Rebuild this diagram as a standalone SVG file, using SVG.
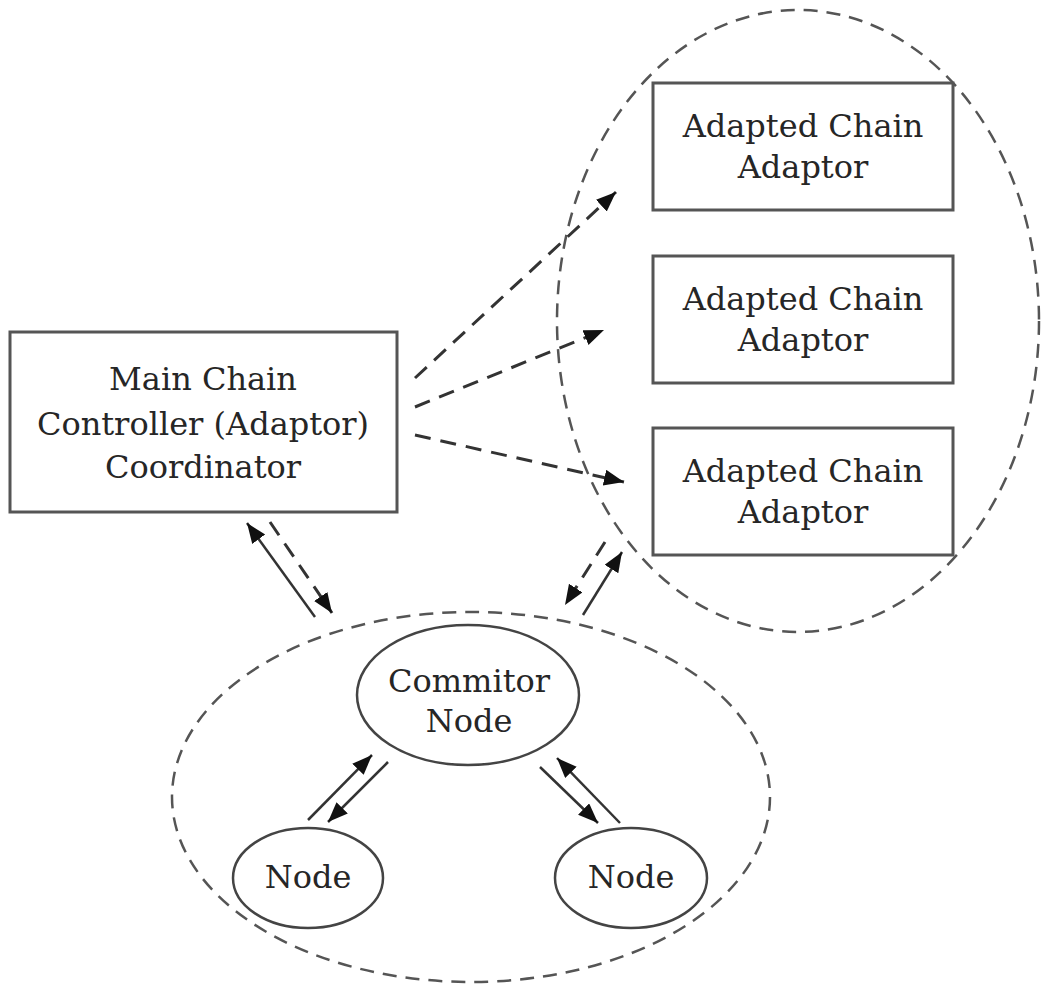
<svg xmlns="http://www.w3.org/2000/svg" width="1043" height="992" viewBox="0 0 1043 992">
<defs>
<marker id="ah" markerUnits="userSpaceOnUse" markerWidth="22" markerHeight="18" refX="20" refY="8" orient="auto">
<path d="M0,0 L20,8 L0,16 z" fill="#111"/>
</marker>
<style>
.box{fill:#fff;stroke:#555;stroke-width:3}
.ell{fill:#fff;stroke:#444;stroke-width:2.5}
.grp{fill:none;stroke:#555;stroke-width:2.5;stroke-dasharray:14 9}
.t{font-family:"DejaVu Serif","Liberation Serif",serif;font-size:32px;fill:#262626;text-anchor:middle}
.da{fill:none;stroke:#333;stroke-width:3;stroke-dasharray:16 10}
.so{fill:none;stroke:#333;stroke-width:2.5}
</style>
</defs>
<rect width="1043" height="992" fill="#fff"/>
<g id="adapted-group"><ellipse class="grp" cx="798" cy="321" rx="241" ry="311"/></g>
<g id="node-group"><ellipse class="grp" cx="471" cy="797" rx="299" ry="185"/></g>
<g id="main"><rect class="box" x="10" y="332" width="387" height="180"/>
<text class="t" x="203" y="390">Main Chain</text>
<text class="t" x="203" y="435">Controller (Adaptor)</text>
<text class="t" x="203" y="478">Coordinator</text></g>
<g id="adaptor1"><rect class="box" x="653" y="83" width="300" height="127"/>
<text class="t" x="803" y="137">Adapted Chain</text>
<text class="t" x="803" y="178">Adaptor</text></g>
<g id="adaptor2"><rect class="box" x="653" y="256" width="300" height="127"/>
<text class="t" x="803" y="310">Adapted Chain</text>
<text class="t" x="803" y="351">Adaptor</text></g>
<g id="adaptor3"><rect class="box" x="653" y="428" width="300" height="127"/>
<text class="t" x="803" y="482">Adapted Chain</text>
<text class="t" x="803" y="523">Adaptor</text></g>
<g id="commitor"><ellipse class="ell" cx="468" cy="695" rx="111" ry="70"/>
<text class="t" x="469" y="692">Commitor</text>
<text class="t" x="469" y="732">Node</text></g>
<g id="node-left"><ellipse class="ell" cx="308" cy="878" rx="75" ry="50"/>
<text class="t" x="308" y="888">Node</text></g>
<g id="node-right"><ellipse class="ell" cx="631" cy="878" rx="76" ry="50"/>
<text class="t" x="631" y="888">Node</text></g>
<g id="connectors">
<line class="da" x1="415" y1="378" x2="616" y2="192" marker-end="url(#ah)"/>
<line class="da" x1="415" y1="407" x2="604" y2="330" marker-end="url(#ah)"/>
<line class="da" x1="415" y1="435" x2="624" y2="482" marker-end="url(#ah)"/>
<line class="so" x1="315" y1="617" x2="247" y2="523" marker-end="url(#ah)"/>
<line class="da" x1="270" y1="522" x2="332" y2="613" marker-end="url(#ah)"/>
<line class="da" x1="605" y1="542" x2="565" y2="605" marker-end="url(#ah)"/>
<line class="so" x1="583" y1="615" x2="622" y2="552" marker-end="url(#ah)"/>
<line class="so" x1="308" y1="820" x2="372" y2="755" marker-end="url(#ah)"/>
<line class="so" x1="388" y1="762" x2="328" y2="822" marker-end="url(#ah)"/>
<line class="so" x1="540" y1="767" x2="598" y2="823" marker-end="url(#ah)"/>
<line class="so" x1="620" y1="823" x2="557" y2="758" marker-end="url(#ah)"/>
</g>
</svg>
